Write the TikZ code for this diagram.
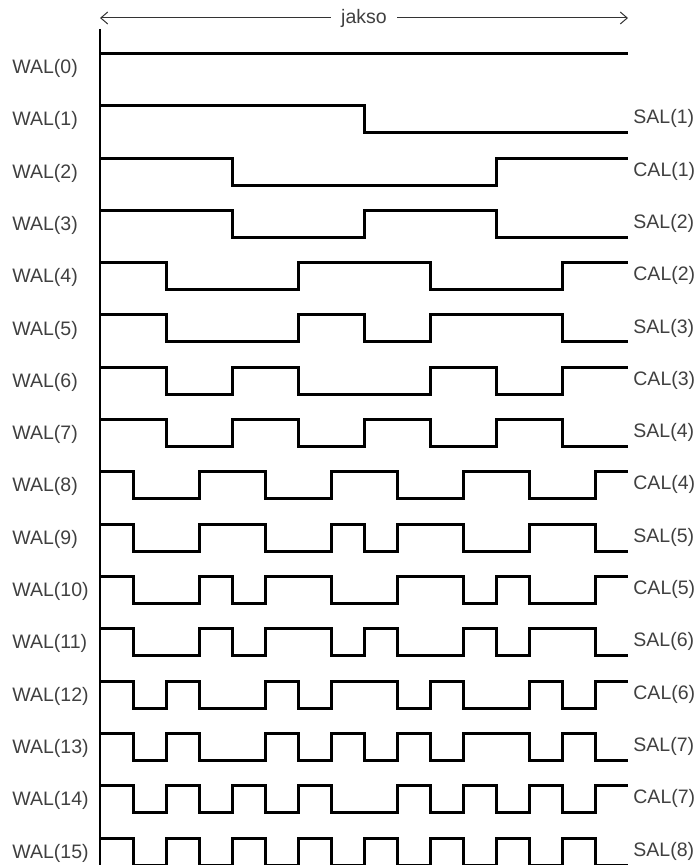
\documentclass[tikz,border=0pt]{standalone}
\usepackage{fontspec}
\setmainfont{Liberation Sans}
\usetikzlibrary{arrows.meta}

\tikzset{%
  wave/.style={draw, line width=1.5pt, line join=miter, color=black},
  axis/.style={draw, line width=1pt, color=black},
  span/.style={draw, line width=0.5pt, color=black!80, {Straight Barb[length=3.5pt,width=6pt]}-{Straight Barb[length=3.5pt,width=6pt]}},
  lab/.style={anchor=west, inner sep=0pt, text=black!75, font=\fontsize{9.75}{11}\selectfont},
}

\begin{document}
\begin{tikzpicture}[x=0.5pt, y=-0.5pt]
\useasboundingbox (0,0) rectangle (698,865);
% time axis and period
\coordinate (top) at (100,29);
\coordinate (bot) at (100,865);
\draw[axis] (top) -- (bot);
\coordinate (s) at (100,18);
\coordinate (e) at (628,18);
\draw[span] (s) -- node[lab, anchor=center, fill=white, inner xsep=5pt, inner ysep=1pt] (jakso) {jakso} (e);
% Walsh functions, run ends in units of 1/16 period
\foreach \k/\runs/\rtxt in {0/{16}/{},
  1/{8,16}/SAL(1),
  2/{4,12,16}/CAL(1),
  3/{4,8,12,16}/SAL(2),
  4/{2,6,10,14,16}/CAL(2),
  5/{2,6,8,10,14,16}/SAL(3),
  6/{2,4,6,10,12,14,16}/CAL(3),
  7/{2,4,6,8,10,12,14,16}/SAL(4),
  8/{1,3,5,7,9,11,13,15,16}/CAL(4),
  9/{1,3,5,7,8,9,11,13,15,16}/SAL(5),
  10/{1,3,4,5,7,9,11,12,13,15,16}/CAL(5),
  11/{1,3,4,5,7,8,9,11,12,13,15,16}/SAL(6),
  12/{1,2,3,5,6,7,9,10,11,13,14,15,16}/CAL(6),
  13/{1,2,3,5,6,7,8,9,10,11,13,14,15,16}/SAL(7),
  14/{1,2,3,4,5,6,7,9,10,11,12,13,14,15,16}/CAL(7),
  15/{1,2,3,4,5,6,7,8,9,10,11,12,13,14,15,16}/SAL(8)} {
  \pgfmathsetmacro\hy{53.5+52.3*\k}
  \node[lab] (wal\k) at (12,{\hy+15}) {WAL(\k)};
  \node[lab] (cs\k) at (633,{\hy+13}) {\rtxt};
  \draw[wave] (100,\hy) \foreach \e [count=\c] in \runs { |- ({100+\e*33},{\hy+mod(\c-1,2)*27}) };
}
\end{tikzpicture}
\end{document}
